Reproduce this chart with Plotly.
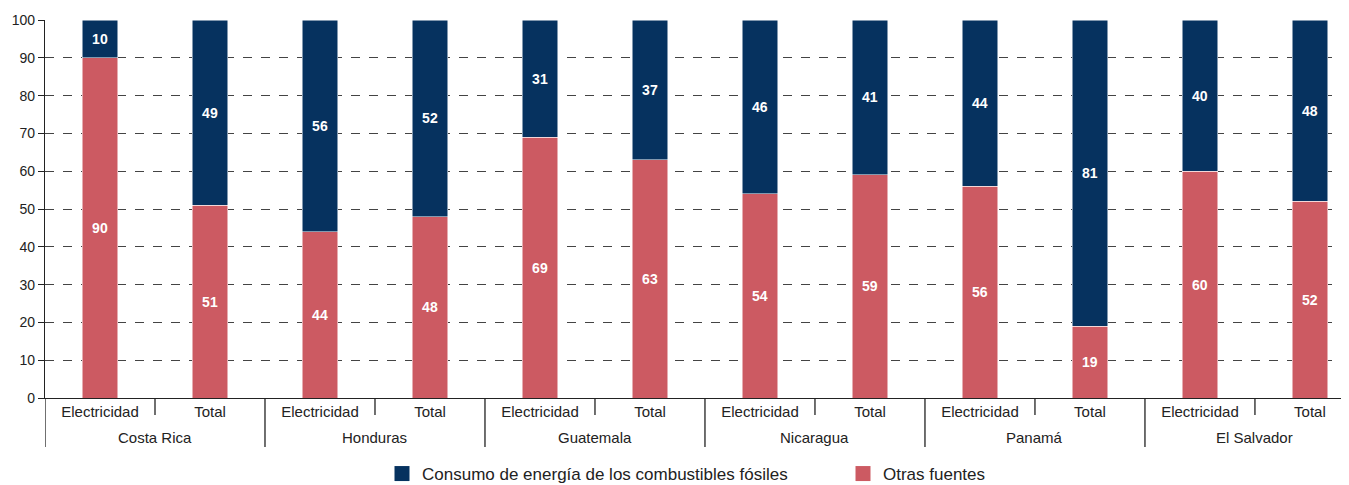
import plotly.graph_objects as go

paises = ["Costa Rica", "Honduras", "Guatemala", "Nicaragua", "Panamá", "El Salvador"]
tipos = ["Electricidad", "Total"]
fosiles = [10, 49, 56, 52, 31, 37, 46, 41, 44, 81, 40, 48]
otras = [90, 51, 44, 48, 69, 63, 54, 59, 56, 19, 60, 52]
y_ticks = list(range(0, 101, 10))

etiquetas = [t for _ in paises for t in tipos]
pos = list(range(len(etiquetas)))

AZUL = "#06325F"
ROJO = "#CC5A62"
LINEA = "#222222"
FUENTE = "Arial, Liberation Sans, sans-serif"
NOM_FOSIL = "Consumo de energía de los combustibles fósiles"
NOM_OTRAS = "Otras fuentes"

fig = go.Figure()

fig.add_trace(go.Bar(
    x=pos, y=otras, name=NOM_OTRAS, showlegend=False,
    marker=dict(color=ROJO, line=dict(color="white", width=0.5)),
    text=otras, textposition="inside", insidetextanchor="middle",
    textfont=dict(color="white", size=14, family=FUENTE, weight="bold"),
    width=0.32,
))
fig.add_trace(go.Bar(
    x=pos, y=fosiles, name=NOM_FOSIL, showlegend=False,
    marker=dict(color=AZUL, line=dict(color="white", width=0.5)),
    text=fosiles, textposition="inside", insidetextanchor="middle",
    textfont=dict(color="white", size=14, family=FUENTE, weight="bold"),
    width=0.32,
))

# entradas de leyenda con cuadrado grande
for nombre, color in [(NOM_FOSIL, AZUL), (NOM_OTRAS, ROJO)]:
    fig.add_trace(go.Scatter(
        x=[None], y=[None], mode="markers", name=nombre,
        marker=dict(symbol="square", size=15, color=color),
    ))

# el último grupo queda recortado por el borde derecho, como en el original
x_min, x_max = -0.5, 11.355
alto = 378  # alto del área de dibujo en px

# separadores cortos entre Electricidad y Total
for i in range(0, len(pos), 2):
    fig.add_shape(type="line", xref="x", yref="paper",
                  x0=i + 0.5, x1=i + 0.5, y0=0, y1=-17 / alto,
                  line=dict(color=LINEA, width=1.3))

# separadores largos entre países + nombre del país
for k, pais in enumerate(paises):
    ini = 2 * k - 0.5
    fig.add_shape(type="line", xref="x", yref="paper",
                  x0=ini, x1=ini, y0=0, y1=-49 / alto,
                  line=dict(color=LINEA, width=1.3))
    fig.add_annotation(x=2 * k + 0.5, y=-39 / alto, xref="x", yref="paper",
                       text=pais, showarrow=False, yanchor="middle",
                       font=dict(size=15, color=LINEA, family=FUENTE))

# la página añade 8 px de margen, se descuentan aquí
fig.update_layout(
    barmode="stack",
    width=1341, height=477,
    margin=dict(l=37, r=0, t=12, b=87, autoexpand=False),
    paper_bgcolor="white", plot_bgcolor="white",
    font=dict(family=FUENTE, size=14, color=LINEA),
    showlegend=True,
    legend=dict(orientation="h", x=(382 - 45) / 1304, xanchor="left",
                y=-76 / alto, yanchor="middle", itemsizing="trace",
                traceorder="normal",
                entrywidth=416, entrywidthmode="pixels",
                font=dict(size=17, color=LINEA)),
    xaxis=dict(
        range=[x_min, x_max], tickvals=pos, ticktext=etiquetas,
        showline=True, linecolor=LINEA, linewidth=1.3,
        ticks="", showgrid=False, zeroline=False,
        tickfont=dict(size=15, color=LINEA),
    ),
    yaxis=dict(
        range=[0, 100], tickvals=y_ticks,
        showline=True, linecolor=LINEA, linewidth=1.3,
        ticks="outside", ticklen=6, tickcolor=LINEA,
        showgrid=True, gridcolor="#444", griddash="dash", gridwidth=1,
        zeroline=False, tickfont=dict(size=14, color=LINEA),
    ),
)

fig.write_html("out.html")
